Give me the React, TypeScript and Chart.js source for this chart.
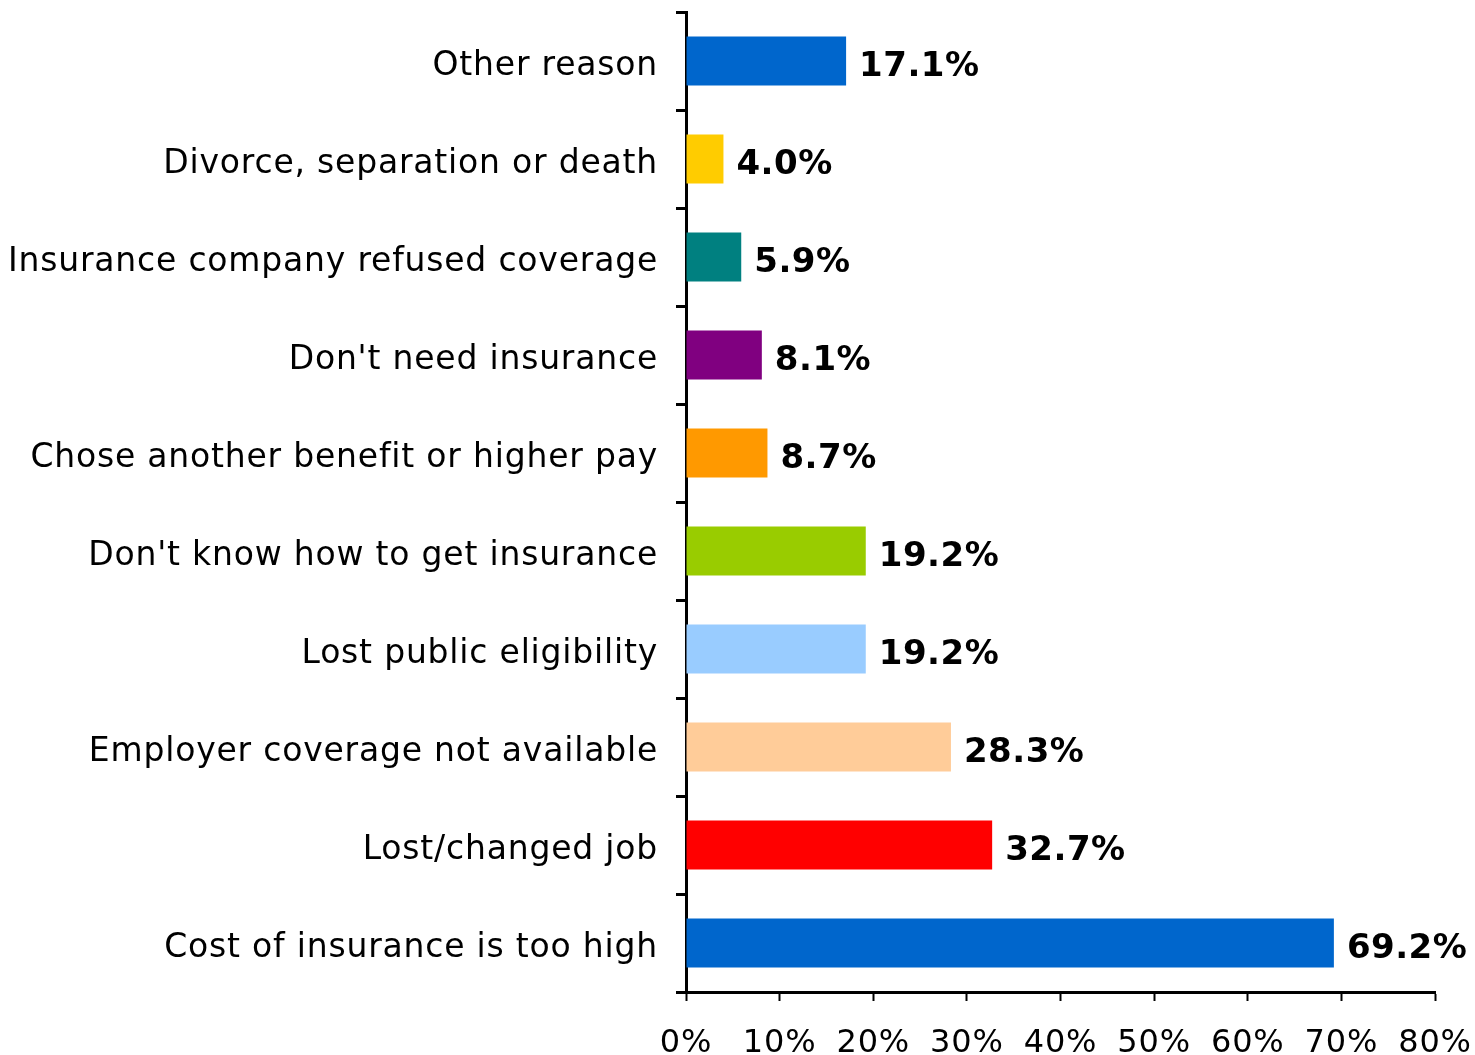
import React, { useEffect, useRef } from "react";
import { Chart, registerables } from "chart.js";

Chart.register(...registerables);

const categories = [
  "Other reason",
  "Divorce, separation or death",
  "Insurance company refused coverage",
  "Don't need insurance",
  "Chose another benefit or higher pay",
  "Don't know how to get insurance",
  "Lost public eligibility",
  "Employer coverage not available",
  "Lost/changed job",
  "Cost of insurance is too high",
];

const values = [17.1, 4.0, 5.9, 8.1, 8.7, 19.2, 19.2, 28.3, 32.7, 69.2];

const barColors = [
  "#0066CC",
  "#FFCC00",
  "#008080",
  "#800080",
  "#FF9900",
  "#99CC00",
  "#99CCFF",
  "#FFCC99",
  "#FF0000",
  "#0066CC",
];

const xTicks = [0, 10, 20, 30, 40, 50, 60, 70, 80];

const FONT = "'DejaVu Sans', Verdana, sans-serif";

const spacingPlugin = {
  id: "spacing",
  beforeDraw(chart: any) {
    (chart.ctx as any).letterSpacing = "0.8px";
  },
};

const dataLabelPlugin = {
  id: "dataLabels",
  afterDatasetsDraw(chart: any) {
    const ctx = chart.ctx;
    const meta = chart.getDatasetMeta(0);
    ctx.save();
    (ctx as any).letterSpacing = "0.5px";
    ctx.font = `bold 34px ${FONT}`;
    ctx.fillStyle = "#000";
    ctx.textAlign = "left";
    ctx.textBaseline = "middle";
    meta.data.forEach((bar: any, i: number) => {
      const v = chart.data.datasets[0].data[i] as number;
      ctx.fillText(v.toFixed(1) + "%", bar.x + 13, bar.y + 6);
    });
    ctx.restore();
  },
};

export default function App() {
  const ref = useRef<HTMLCanvasElement | null>(null);

  useEffect(() => {
    if (!ref.current) return;
    const chart = new Chart(ref.current, {
      type: "bar",
      data: {
        labels: categories,
        datasets: [
          {
            data: values,
            backgroundColor: barColors,
            borderWidth: 0,
            categoryPercentage: 1,
            barPercentage: 0.5,
          },
        ],
      },
      options: {
        indexAxis: "y",
        responsive: false,
        animation: false,
        layout: { padding: { top: 12, right: 40, left: 0, bottom: 0 } },
        plugins: {
          legend: { display: false },
          tooltip: { enabled: false },
        },
        scales: {
          y: {
            type: "category",
            offset: true,
            afterFit: (s: any) => {
              s.width = 686;
              s.paddingTop = 0;
              s.paddingBottom = 0;
            },
            grid: {
              offset: true,
              drawOnChartArea: false,
              drawTicks: true,
              tickLength: 10,
              tickWidth: 3,
              color: "#000",
            },
            border: { display: true, color: "#000", width: 3 },
            ticks: {
              color: "#000",
              padding: 18,
              labelOffset: 5,
              font: { family: FONT, size: 33 },
            },
          },
          x: {
            type: "linear",
            min: 0,
            max: 80,
            afterFit: (s: any) => {
              s.height = 63;
              s.paddingLeft = 0;
              s.paddingRight = 0;
            },
            afterBuildTicks: (s: any) => {
              s.ticks = xTicks.map((v) => ({ value: v }));
            },
            grid: {
              drawOnChartArea: false,
              drawTicks: true,
              tickLength: 9,
              tickWidth: 2,
              color: "#000",
            },
            border: { display: true, color: "#000", width: 3 },
            ticks: {
              color: "#000",
              padding: 23,
              font: { family: FONT, size: 32 },
              callback: (v: any) => v + "%",
            },
          },
        },
      },
      plugins: [spacingPlugin, dataLabelPlugin],
    });
    return () => chart.destroy();
  }, []);

  return (
    <div style={{ position: "absolute", left: 0, top: 0, width: 1475, height: 1055 }}>
      <canvas ref={ref} width={1475} height={1055} style={{ display: "block" }} />
    </div>
  );
}
